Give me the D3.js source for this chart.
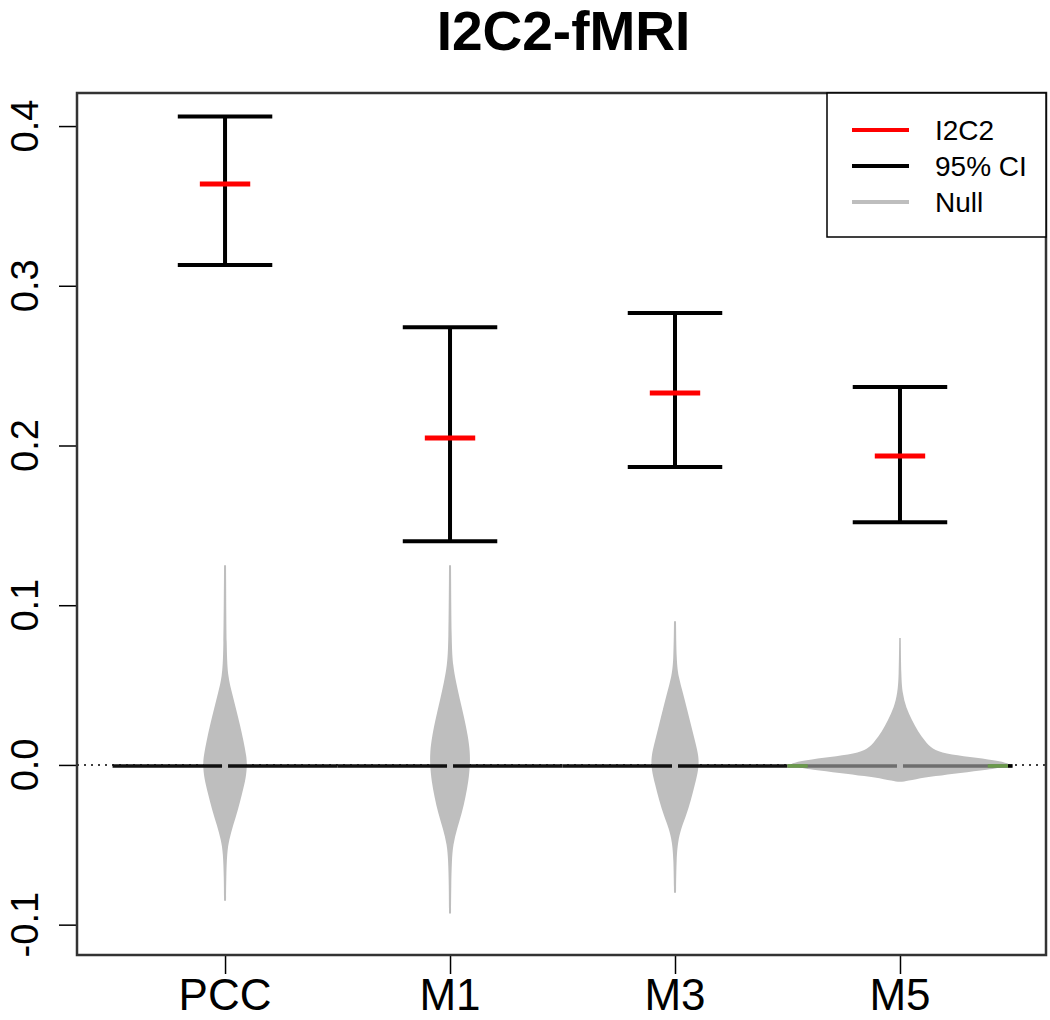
<!DOCTYPE html>
<html><head><meta charset="utf-8">
<script src="https://cdn.jsdelivr.net/npm/d3@7"></script>
<style>body{margin:0;background:#fff}svg{display:block}text{font-family:"Liberation Sans",Arial,sans-serif}</style>
</head><body>
<script>
const categories = ["PCC","M1","M3","M5"];
const i2c2 = [0.3637, 0.2047, 0.2329, 0.1934];
const ciLower = [0.313, 0.140, 0.1865, 0.152];
const ciUpper = [0.406, 0.274, 0.283, 0.2366];
const yTicks = [-0.1, 0.0, 0.1, 0.2, 0.3, 0.4];
const yTickLabels = ["-0.1","0.0","0.1","0.2","0.3","0.4"];
// null distribution bean profiles: [value, relative density (half-width)]
const nullPCC = [[0.125,1],[0.07,1.5],[0.055,3],[0.045,7],[0.035,11],[0.025,15],[0.015,18.5],[0.005,21.5],[0.0,22],[-0.008,21],[-0.018,17],[-0.028,13],[-0.038,8],[-0.047,4],[-0.055,2],[-0.07,1.2],[-0.085,1]];
const nullM1 = [[0.125,1],[0.075,1.5],[0.062,3],[0.052,6],[0.042,9.5],[0.03,14],[0.018,18],[0.008,20],[0.0,20],[-0.01,18.5],[-0.02,15.5],[-0.03,12],[-0.04,7],[-0.05,3],[-0.06,1.8],[-0.075,1.2],[-0.093,1]];
const nullM3 = [[0.09,1],[0.065,1.5],[0.055,3.5],[0.045,8],[0.035,12],[0.025,16],[0.015,20],[0.005,24],[-0.003,23.5],[-0.012,20],[-0.022,16],[-0.032,11],[-0.04,6],[-0.048,3],[-0.058,1.5],[-0.08,1]];
const nullM5 = [[0.0795,0.8],[0.055,1.2],[0.045,2.5],[0.036,6],[0.028,12],[0.021,18],[0.015,25],[0.01,32],[0.007,45],[0.005,70],[0.003,95],[0.001,110],[-0.001,108],[-0.003,88],[-0.005,60],[-0.007,35],[-0.009,15],[-0.0106,2]];
const nullBeans = [nullPCC, nullM1, nullM3, nullM5];
const legendLabels = ["I2C2","95% CI","Null"];
const legendColors = ["#ff0000","#000000","#bebebe"];

const W = 1050, H = 1020;
const svg = d3.select("body").append("svg").attr("width",W).attr("height",H);
const L = 77, R = 1046, T = 93, B = 955;
const x = d3.scaleLinear().domain([0.342, 4.649]).range([L, R]);
const y = d3.scaleLinear().domain([-0.119, 0.4207]).range([B, T]);
const wScale = d3.scaleLinear().domain([0, 225]).range([0, 1]);

// title
svg.append("text").attr("x",(L+R)/2+2).attr("y",50).attr("text-anchor","middle")
  .attr("font-size",55).attr("font-weight","bold").text("I2C2-fMRI");

// overall dotted line at 0
svg.append("line").attr("x1",L).attr("x2",R).attr("y1",y(0)).attr("y2",y(0))
  .attr("stroke","#000").attr("stroke-width",1.5).attr("stroke-dasharray","2,5");

// beans
const area = d3.area().curve(d3.curveBasis).y(d=>y(d[0]));
nullBeans.forEach((bean,i)=>{
  const c = i+1;
  const sorted = bean.slice().sort((a,b)=>a[0]-b[0]);
  svg.append("path").datum(sorted)
    .attr("d", area.x0(d=>x(c-wScale(d[1]))).x1(d=>x(c+wScale(d[1]))))
    .attr("fill","#bebebe");
});

// bean lines at zero
categories.forEach((cat,i)=>{
  const c = i+1;
  const col = i===3 ? "#6e6e6e" : "#111";
  const yy = y(0)+1;
  svg.append("line").attr("x1",x(c-0.5)).attr("x2",x(c)-3).attr("y1",yy).attr("y2",yy)
    .attr("stroke",col).attr("stroke-width",3.5);
  svg.append("line").attr("x1",x(c)+3).attr("x2",x(c+0.5)).attr("y1",yy).attr("y2",yy)
    .attr("stroke",col).attr("stroke-width",3.5);
  if(i===3){
    [[c-0.5,c-0.41],[c+0.39,c+0.48]].forEach(s=>{
      svg.append("line").attr("x1",x(s[0])).attr("x2",x(s[1])).attr("y1",yy).attr("y2",yy)
        .attr("stroke","#6a9a4a").attr("stroke-width",3.5);
    });
    svg.append("line").attr("x1",x(c+0.48)).attr("x2",x(c+0.5)).attr("y1",yy).attr("y2",yy)
      .attr("stroke","#000").attr("stroke-width",3.5);
  }
});

// CIs
categories.forEach((cat,i)=>{
  const c = i+1;
  const g = svg.append("g").attr("stroke","#000").attr("stroke-width",4);
  g.append("line").attr("x1",x(c)).attr("x2",x(c)).attr("y1",y(ciLower[i])).attr("y2",y(ciUpper[i]));
  g.append("line").attr("x1",x(c-0.21)).attr("x2",x(c+0.21)).attr("y1",y(ciLower[i])).attr("y2",y(ciLower[i]));
  g.append("line").attr("x1",x(c-0.21)).attr("x2",x(c+0.21)).attr("y1",y(ciUpper[i])).attr("y2",y(ciUpper[i]));
  svg.append("line").attr("x1",x(c-0.112)).attr("x2",x(c+0.112)).attr("y1",y(i2c2[i])).attr("y2",y(i2c2[i]))
    .attr("stroke","#ff0000").attr("stroke-width",5);
});

// axes
const yAxis = svg.append("g").attr("transform",`translate(${L},0)`)
  .call(d3.axisLeft(y).tickValues(yTicks).tickSize(18).tickFormat(""));
yAxis.select(".domain").remove();
yAxis.selectAll(".tick line").attr("stroke","#000").attr("stroke-width",1.5);
yTicks.forEach((t,i)=>{
  svg.append("text").attr("transform",`translate(38,${y(t)}) rotate(-90)`)
    .attr("text-anchor","middle").attr("font-size",38).text(yTickLabels[i]);
});
const xAxis = svg.append("g").attr("transform",`translate(0,${B})`)
  .call(d3.axisBottom(x).tickValues([1,2,3,4]).tickSize(19).tickFormat(""));
xAxis.select(".domain").remove();
xAxis.selectAll(".tick line").attr("stroke","#000").attr("stroke-width",1.5);
categories.forEach((cat,i)=>{
  svg.append("text").attr("x",x(i+1)).attr("y",1010).attr("text-anchor","middle")
    .attr("font-size",44).text(cat);
});

// box
svg.append("rect").attr("x",L).attr("y",T).attr("width",R-L).attr("height",B-T)
  .attr("fill","none").attr("stroke","#333").attr("stroke-width",2.5);

// legend
const lg = svg.append("g");
lg.append("rect").attr("x",827).attr("y",T).attr("width",R-827).attr("height",237-T)
  .attr("fill","#fff").attr("stroke","#000").attr("stroke-width",1.5);
legendLabels.forEach((lab,i)=>{
  const yy = 130 + i*36;
  lg.append("line").attr("x1",852).attr("x2",909).attr("y1",yy).attr("y2",yy)
    .attr("stroke",legendColors[i]).attr("stroke-width",4);
  lg.append("text").attr("x",935).attr("y",yy+10).attr("font-size",28).text(lab);
});
</script>
</body></html>
